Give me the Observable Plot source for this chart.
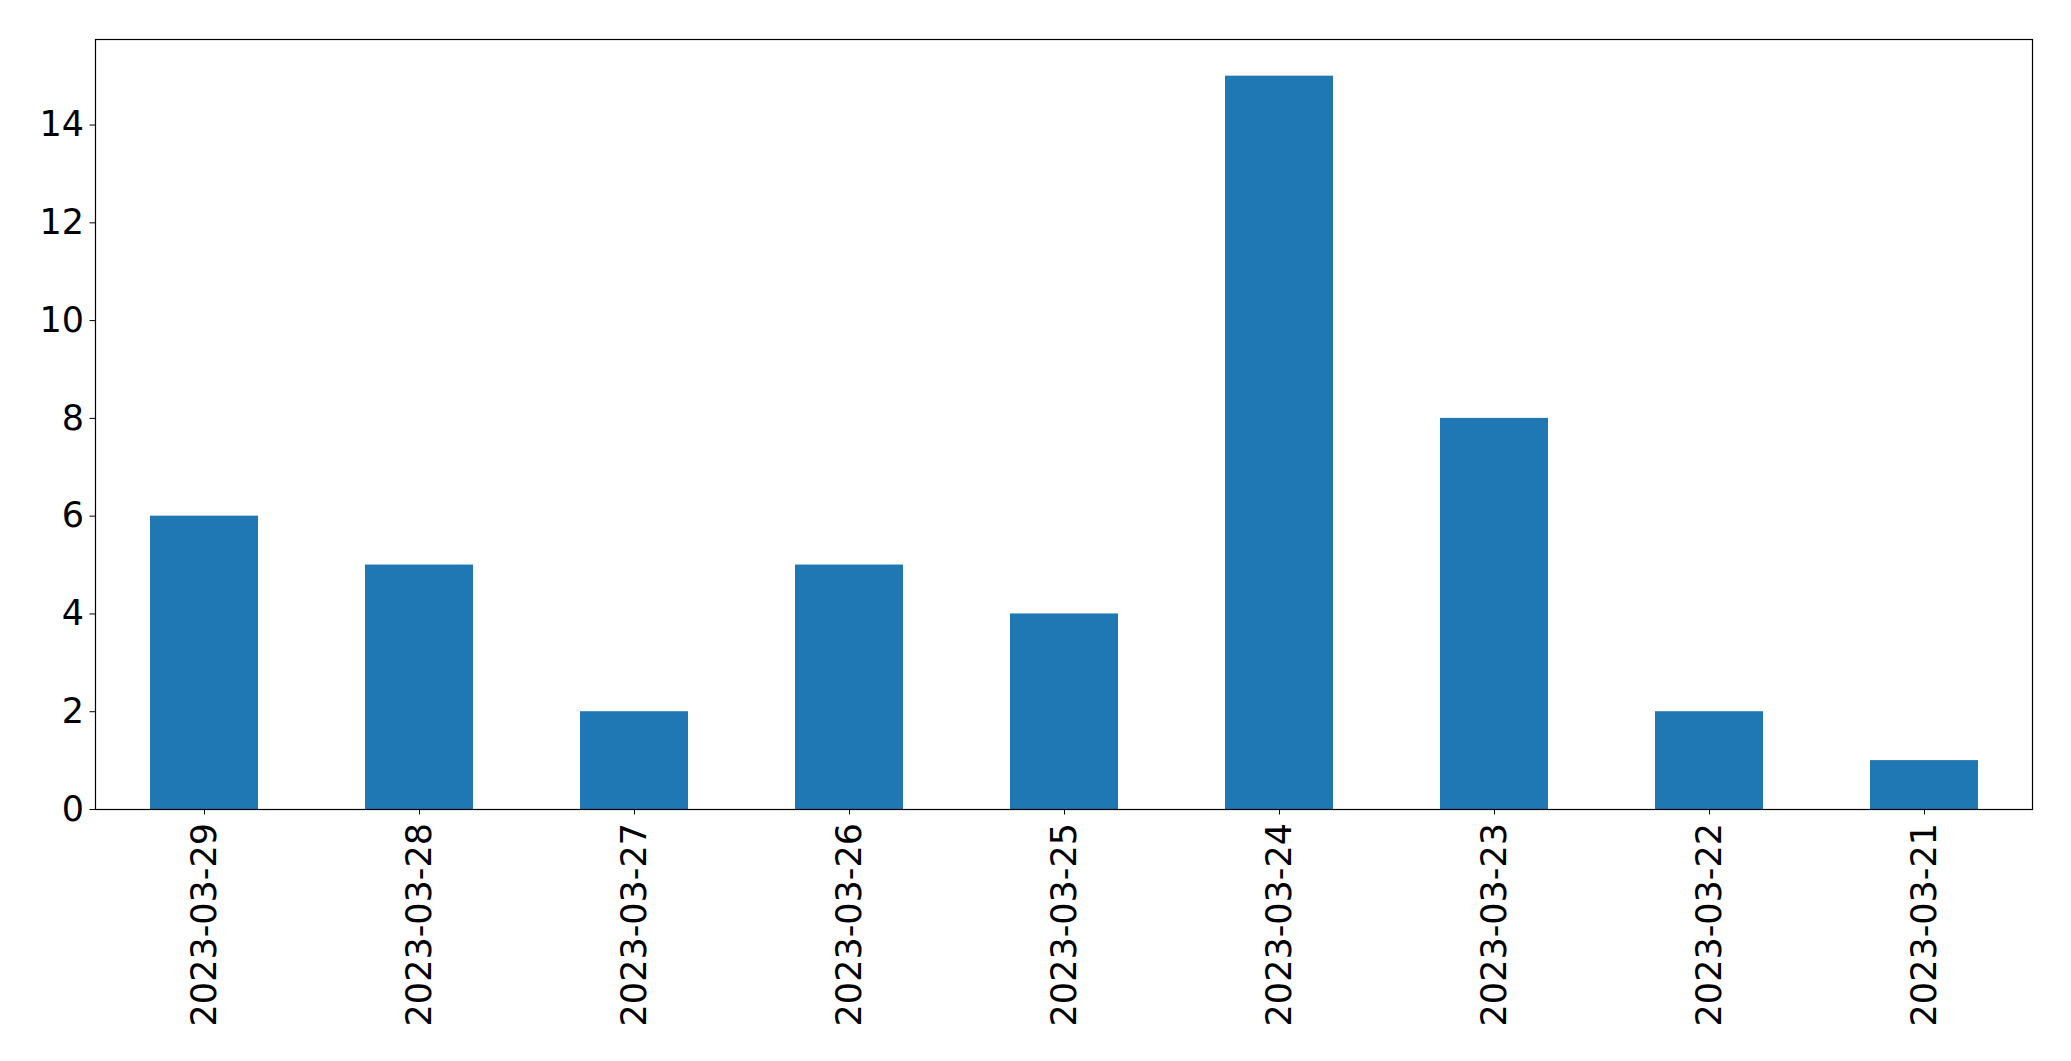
<!DOCTYPE html>
<html>
<head>
<meta charset="utf-8">
<script src="https://cdn.jsdelivr.net/npm/d3@7"></script>
<script src="https://cdn.jsdelivr.net/npm/@observablehq/plot@0.6"></script>
<style>
html,body{margin:0;padding:0;background:#fff;}
</style>
</head>
<body>
<div id="chart"></div>
<script>
const dates = ["2023-03-29","2023-03-28","2023-03-27","2023-03-26","2023-03-25","2023-03-24","2023-03-23","2023-03-22","2023-03-21"];
const counts = [6,5,2,5,4,15,8,2,1];
const yTicks = [0,2,4,6,8,10,12,14];

const data = dates.map((d,i)=>({date:d, count:counts[i]}));

const chart = Plot.plot({
  width: 2071,
  height: 1061,
  marginLeft: 95,
  marginRight: 39,
  marginTop: 39,
  marginBottom: 252,
  style: {fontFamily: "DejaVu Sans", fontSize: "35px", color: "#000", background: "#fff"},
  x: {domain: dates, paddingInner: 0.5, paddingOuter: 0.25, label: null},
  y: {domain: [0, 15.75], label: null},
  marks: [
    Plot.barY(data, {x: "date", y: "count", fill: "#1f77b4"}),
    Plot.frame({stroke: "#000", strokeWidth: 1.2}),
    Plot.axisY({ticks: yTicks, tickSize: 5.5, tickPadding: 6, label: null, fontSize: 35, tickFormat: d => String(d)}),
    Plot.axisX({tickSize: 5.5, tickPadding: 8, tickRotate: -90, label: null, fontSize: 35})
  ]
});
document.getElementById("chart").appendChild(chart);
</script>
</body>
</html>
